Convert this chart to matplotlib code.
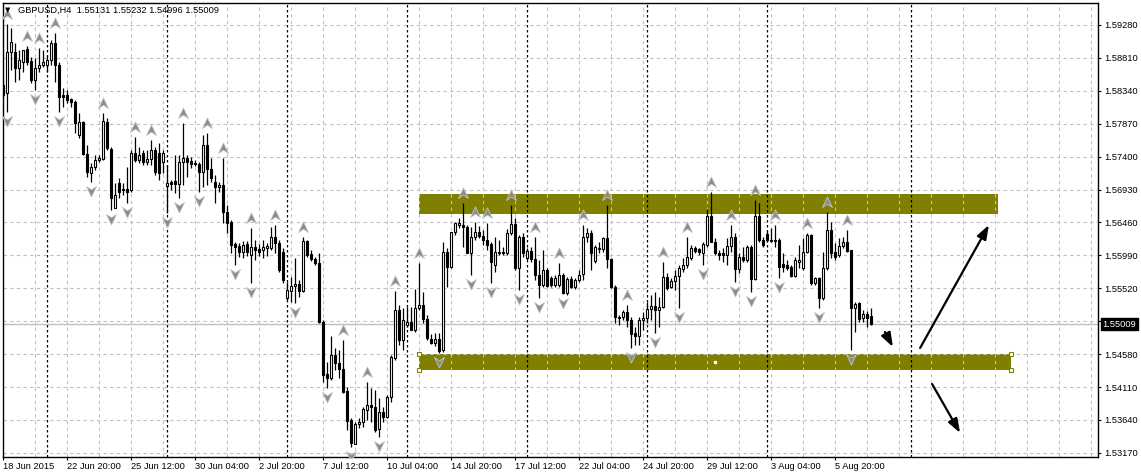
import matplotlib
matplotlib.use("Agg")
import matplotlib.pyplot as plt
import numpy as np
from matplotlib.path import Path
from matplotlib.patches import Rectangle
from matplotlib.transforms import offset_copy, blended_transform_factory

# ---------------- data (GBPUSD H4) ----------------
opens = [1.5842,1.5831,1.5889,1.5889,1.5867,1.5875,1.5894,1.5877,1.5850,1.5867,
1.5871,1.5871,1.5878,1.5902,1.5871,1.5828,1.5828,1.5822,1.5818,1.5771,
1.5789,1.5744,1.5717,1.5725,1.5735,1.5737,1.5789,1.5751,1.5667,1.5702,
1.5694,1.5694,1.5692,1.5745,1.5735,1.5745,1.5732,1.5737,1.5750,1.5745,
1.5732,1.5698,1.5704,1.5705,1.5701,1.5732,1.5738,1.5734,1.5731,1.5730,
1.5718,1.5757,1.5722,1.5704,1.5697,1.5700,1.5661,1.5647,1.5615,1.5612,
1.5604,1.5615,1.5600,1.5611,1.5608,1.5607,1.5610,1.5610,1.5625,1.5617,
1.5604,1.5538,1.5548,1.5555,1.5558,1.5548,1.5620,1.5601,1.5594,1.5588,
1.5504,1.5430,1.5424,1.5457,1.5445,1.5437,1.5405,1.5364,1.5330,1.5358,
1.5361,1.5378,1.5385,1.5382,1.5351,1.5375,1.5368,1.5397,1.5452,1.5521,
1.5478,1.5500,1.5504,1.5492,1.5524,1.5528,1.5508,1.5480,1.5474,1.5480,
1.5464,1.5604,1.5582,1.5632,1.5642,1.5642,1.5640,1.5602,1.5625,1.5632,
1.5627,1.5621,1.5615,1.5585,1.5602,1.5604,1.5602,1.5631,1.5644,1.5581,
1.5625,1.5595,1.5605,1.5594,1.5571,1.5557,1.5578,1.5567,1.5557,1.5557,
1.5571,1.5545,1.5565,1.5554,1.5564,1.5572,1.5625,1.5631,1.5591,1.5608,
1.5608,1.5624,1.5594,1.5554,1.5511,1.5511,1.5518,1.5507,1.5488,1.5484,
1.5507,1.5510,1.5522,1.5527,1.5521,1.5525,1.5568,1.5554,1.5562,1.5570,
1.5580,1.5585,1.5595,1.5610,1.5608,1.5602,1.5614,1.5655,1.5618,1.5602,
1.5602,1.5600,1.5612,1.5625,1.5580,1.5597,1.5592,1.5611,1.5565,1.5655,
1.5621,1.5630,1.5621,1.5620,1.5621,1.5587,1.5585,1.5582,1.5570,1.5590,
1.5581,1.5604,1.5628,1.5560,1.5567,1.5538,1.5581,1.5635,1.5604,1.5600,
1.5612,1.5618,1.5607,1.5524,1.5531,1.5510,1.5515,1.55131]

highs = [1.5850,1.5929,1.5924,1.5902,1.5892,1.5892,1.5898,1.5882,1.5881,1.5895,
1.5892,1.5885,1.5907,1.5917,1.5875,1.5838,1.5835,1.5824,1.5821,1.5802,
1.5791,1.5757,1.5731,1.5742,1.5742,1.5802,1.5795,1.5754,1.5702,1.5710,
1.5702,1.5725,1.5750,1.5768,1.5754,1.5750,1.5750,1.5764,1.5754,1.5760,
1.5750,1.5728,1.5707,1.5742,1.5742,1.5788,1.5742,1.5740,1.5735,1.5732,
1.5771,1.5774,1.5738,1.5714,1.5704,1.5738,1.5671,1.5650,1.5618,1.5617,
1.5620,1.5620,1.5638,1.5621,1.5615,1.5621,1.5617,1.5640,1.5642,1.5621,
1.5610,1.5561,1.5568,1.5595,1.5564,1.5625,1.5621,1.5607,1.5597,1.5602,
1.5507,1.5447,1.5484,1.5467,1.5464,1.5478,1.5411,1.5367,1.5361,1.5367,
1.5382,1.5418,1.5410,1.5407,1.5395,1.5382,1.5400,1.5457,1.5548,1.5528,
1.5524,1.5525,1.5525,1.5551,1.5588,1.5547,1.5514,1.5487,1.5488,1.5488,
1.5618,1.5610,1.5632,1.5647,1.5652,1.5674,1.5642,1.5640,1.5647,1.5641,
1.5635,1.5645,1.5618,1.5625,1.5621,1.5611,1.5637,1.5671,1.5652,1.5628,
1.5631,1.5610,1.5611,1.5625,1.5592,1.5607,1.5581,1.5570,1.5571,1.5588,
1.5574,1.5568,1.5570,1.5567,1.5578,1.5642,1.5638,1.5635,1.5614,1.5618,
1.5625,1.5671,1.5595,1.5557,1.5514,1.5521,1.5528,1.5511,1.5497,1.5511,
1.5518,1.5532,1.5542,1.5547,1.5540,1.5590,1.5574,1.5567,1.5578,1.5585,
1.5595,1.5625,1.5614,1.5612,1.5610,1.5618,1.5665,1.5690,1.5624,1.5607,
1.5610,1.5624,1.5642,1.5631,1.5602,1.5611,1.5614,1.5614,1.5678,1.5674,
1.5625,1.5634,1.5638,1.5642,1.5624,1.5602,1.5592,1.5585,1.5597,1.5614,
1.5624,1.5631,1.5630,1.5568,1.5568,1.5604,1.5661,1.5647,1.5617,1.5624,
1.5625,1.5635,1.5607,1.5532,1.5532,1.5521,1.5520,1.55232]

lows = [1.5825,1.5804,1.5864,1.5847,1.5850,1.5861,1.5871,1.5845,1.5835,1.5861,
1.5868,1.5861,1.5871,1.5847,1.5804,1.5811,1.5817,1.5811,1.5774,1.5767,
1.5742,1.5711,1.5704,1.5721,1.5732,1.5735,1.5750,1.5664,1.5667,1.5681,
1.5685,1.5674,1.5690,1.5732,1.5731,1.5728,1.5728,1.5728,1.5714,1.5707,
1.5717,1.5660,1.5692,1.5688,1.5681,1.5700,1.5711,1.5724,1.5727,1.5690,
1.5697,1.5700,1.5704,1.5674,1.5690,1.5645,1.5631,1.5602,1.5585,1.5597,
1.5595,1.5598,1.5560,1.5592,1.5598,1.5595,1.5598,1.5607,1.5602,1.5575,
1.5560,1.5535,1.5532,1.5531,1.5540,1.5547,1.5597,1.5591,1.5585,1.5502,
1.5418,1.5410,1.5421,1.5435,1.5424,1.5402,1.5350,1.5325,1.5330,1.5352,
1.5354,1.5364,1.5361,1.5347,1.5340,1.5361,1.5367,1.5390,1.5450,1.5471,
1.5464,1.5497,1.5492,1.5490,1.5521,1.5502,1.5478,1.5472,1.5470,1.5460,
1.5461,1.5554,1.5581,1.5628,1.5638,1.5611,1.5602,1.5571,1.5621,1.5624,
1.5614,1.5607,1.5560,1.5575,1.5600,1.5600,1.5600,1.5628,1.5578,1.5550,
1.5597,1.5592,1.5590,1.5564,1.5538,1.5554,1.5554,1.5554,1.5554,1.5554,
1.5544,1.5542,1.5552,1.5551,1.5561,1.5564,1.5618,1.5578,1.5588,1.5602,
1.5604,1.5581,1.5552,1.5502,1.5500,1.5507,1.5497,1.5467,1.5471,1.5471,
1.5492,1.5502,1.5507,1.5488,1.5497,1.5524,1.5550,1.5552,1.5550,1.5524,
1.5575,1.5581,1.5592,1.5602,1.5600,1.5585,1.5611,1.5618,1.5600,1.5592,
1.5590,1.5585,1.5604,1.5561,1.5574,1.5590,1.5590,1.5547,1.5564,1.5618,
1.5611,1.5618,1.5618,1.5611,1.5567,1.5575,1.5578,1.5568,1.5568,1.5581,
1.5578,1.5602,1.5557,1.5557,1.5524,1.5535,1.5578,1.5595,1.5592,1.5597,
1.5610,1.5604,1.5464,1.5490,1.5504,1.5504,1.5497,1.54996]

closes = [1.5828,1.5889,1.5904,1.5867,1.5878,1.5892,1.5875,1.5850,1.5867,1.5871,
1.5875,1.5878,1.5902,1.5871,1.5825,1.5825,1.5821,1.5818,1.5788,1.5789,
1.5744,1.5718,1.5725,1.5735,1.5738,1.5791,1.5752,1.5681,1.5685,1.5690,
1.5692,1.5690,1.5745,1.5735,1.5742,1.5732,1.5737,1.5750,1.5718,1.5717,
1.5745,1.5702,1.5701,1.5701,1.5732,1.5738,1.5732,1.5730,1.5730,1.5718,
1.5757,1.5722,1.5710,1.5697,1.5700,1.5661,1.5645,1.5614,1.5611,1.5604,
1.5614,1.5604,1.5611,1.5607,1.5604,1.5611,1.5612,1.5625,1.5617,1.5578,
1.5564,1.5550,1.5555,1.5558,1.5548,1.5620,1.5600,1.5594,1.5588,1.5504,
1.5428,1.5424,1.5457,1.5445,1.5437,1.5404,1.5362,1.5331,1.5358,1.5361,
1.5380,1.5385,1.5382,1.5350,1.5375,1.5368,1.5397,1.5454,1.5521,1.5478,
1.5507,1.5504,1.5492,1.5524,1.5528,1.5508,1.5481,1.5474,1.5480,1.5462,
1.5604,1.5582,1.5632,1.5645,1.5645,1.5640,1.5602,1.5625,1.5632,1.5627,
1.5621,1.5614,1.5590,1.5604,1.5604,1.5602,1.5631,1.5644,1.5581,1.5625,
1.5602,1.5605,1.5594,1.5571,1.5557,1.5578,1.5555,1.5557,1.5567,1.5571,
1.5545,1.5565,1.5554,1.5564,1.5571,1.5625,1.5631,1.5602,1.5611,1.5610,
1.5624,1.5594,1.5554,1.5511,1.5510,1.5518,1.5507,1.5487,1.5484,1.5507,
1.5510,1.5522,1.5527,1.5521,1.5525,1.5568,1.5552,1.5562,1.5570,1.5581,
1.5585,1.5597,1.5610,1.5605,1.5604,1.5615,1.5655,1.5618,1.5602,1.5600,
1.5600,1.5612,1.5625,1.5580,1.5597,1.5592,1.5611,1.5565,1.5655,1.5621,
1.5614,1.5621,1.5620,1.5621,1.5582,1.5582,1.5581,1.5570,1.5592,1.5592,
1.5604,1.5628,1.5560,1.5567,1.5538,1.5581,1.5635,1.5602,1.5597,1.5612,
1.5618,1.5605,1.5524,1.5530,1.5508,1.5515,1.5510,1.55009]

# bar indices carrying a Bill Williams fractal mark
up_fractals = [1, 6, 9, 13, 25, 33, 37, 45, 51, 55, 62, 68, 75, 85, 91, 98, 104,
               115, 118, 121, 127, 133, 139, 145, 151, 156, 165, 171, 177, 182,
               188, 193, 201, 206, 211]
down_fractals = [1, 8, 14, 22, 27, 31, 41, 44, 49, 58, 62, 73, 81, 87, 94, 109,
                 117, 122, 129, 134, 140, 157, 163, 169, 175, 183, 187, 194, 204, 212]

# time axis labels (every 16 bars) and weekly separators (bar index)
date_labels = ["18 Jun 2015", "22 Jun 20:00", "25 Jun 12:00", "30 Jun 04:00",
               "2 Jul 20:00", "7 Jul 12:00", "10 Jul 04:00", "14 Jul 20:00",
               "17 Jul 12:00", "22 Jul 04:00", "24 Jul 20:00", "29 Jul 12:00",
               "3 Aug 04:00", "5 Aug 20:00"]
label_bars = [0, 16, 32, 48, 64, 80, 96, 112, 128, 144, 160, 176, 192, 208]
week_separators = [11, 41, 71, 101, 131, 161, 191, 227]

price_ticks = [1.53170, 1.53640, 1.54110, 1.54580, 1.55050, 1.55520, 1.55990,
               1.56460, 1.56930, 1.57400, 1.57870, 1.58340, 1.58810, 1.59280]

# drawn objects: zones (bar_start, bar_end, price_low, price_high) and arrows
resistance_zone = (103.9, 248.7, 1.56581, 1.56867)
support_zone = (103.9, 251.9, 1.54353, 1.54582)
arrow_starts = [(220.4, 1.54896), (229.2, 1.54668), (232.2, 1.54153)]
arrow_ends = [(222.4, 1.54682), (246.4, 1.56424), (239.2, 1.53454)]

symbol_title = "GBPUSD,H4  1.55131 1.55232 1.54996 1.55009"
last_price = 1.55009

# ---------------- figure ----------------
W, H = 1141, 475
fig = plt.figure(figsize=(W / 100, H / 100), dpi=100)
fig.patch.set_facecolor("white")
ax = fig.add_axes([3 / W, 18 / H, 1095 / W, 454 / H])
ax.set_facecolor("white")
ax.set_xlim(-0.08, 273.67)
ax.set_ylim(1.53111, 1.59594)

FONT = "Liberation Sans"
FS = 6.7
GRID = "#c0c0c0"
OLIVE = "#808000"

# grid
for p in price_ticks:
    ax.axhline(p, color=GRID, lw=0.8, ls=(0, (3, 3)), zorder=1)
for b in np.arange(8, 274, 8):
    ax.axvline(b, color=GRID, lw=0.8, ls=(0, (3, 3)), zorder=1)
for b in week_separators:
    ax.axvline(b, color="black", lw=0.9, ls=(0, (2, 2)), zorder=1.2)

# zones
for (x0, x1, y0, y1) in (resistance_zone, support_zone):
    ax.add_patch(Rectangle((x0, y0), x1 - x0, y1 - y0, facecolor=OLIVE,
                           edgecolor="none", zorder=0.8))
sx0, sx1, sy0, sy1 = support_zone
ax.plot([sx0, sx0, sx1, sx1], [sy0, sy1, sy0, sy1], ls="none", marker="s",
        ms=3.3, mfc="white", mec=OLIVE, mew=0.8, zorder=6, clip_on=False)
ax.plot([(sx0 + sx1) / 2], [(sy0 + sy1) / 2], ls="none", marker="s", ms=2,
        mfc="white", mec="white", zorder=6)

# current price line
ax.axhline(last_price, color="#c0c0c0", lw=1.0, zorder=1.5)

# candles
O = np.array(opens); C = np.array(closes)
Hh = np.array(highs); Ll = np.array(lows)
x = np.arange(len(O))
ax.vlines(x, Ll, Hh, color="black", lw=0.9, zorder=3)
bull = C >= O
body_lo = np.minimum(O, C)
body_h = np.maximum(np.abs(C - O), 1e-6)
ax.bar(x, body_h, bottom=body_lo, width=0.5,
       color=np.where(bull, "white", "black"), edgecolor="black",
       linewidth=0.8, zorder=4)

# fractal marks
up_path = Path([(0, 0.5), (0.45, -0.45), (0, -0.15), (-0.45, -0.45), (0, 0.5)],
               [Path.MOVETO, Path.LINETO, Path.LINETO, Path.LINETO, Path.CLOSEPOLY])
dn_path = Path([(0, -0.5), (0.45, 0.45), (0, 0.15), (-0.45, 0.45), (0, -0.5)],
               [Path.MOVETO, Path.LINETO, Path.LINETO, Path.LINETO, Path.CLOSEPOLY])
tr_up = offset_copy(ax.transData, fig=fig, x=0, y=10, units="dots")
tr_dn = offset_copy(ax.transData, fig=fig, x=0, y=-9, units="dots")
ui = np.array(up_fractals); di = np.array(down_fractals)
ax.plot(ui, Hh[ui], ls="none", marker=up_path, ms=8, mfc="#8c8c8c",
        mec="#c4c4c4", mew=0.6, transform=tr_up, zorder=5)
ax.plot(di, Ll[di], ls="none", marker=dn_path, ms=8, mfc="#8c8c8c",
        mec="#c4c4c4", mew=0.6, transform=tr_dn, zorder=5)

# drawn arrows
for s, e in zip(arrow_starts, arrow_ends):
    ax.annotate("", xy=e, xytext=s,
                arrowprops=dict(arrowstyle="-|>,head_length=0.7,head_width=0.25",
                                color="black", lw=1.6, shrinkA=0, shrinkB=0,
                                mutation_scale=12), zorder=6)

# axes styling
for sp in ax.spines.values():
    sp.set_color("black"); sp.set_linewidth(1.0)
ax.yaxis.tick_right()
ax.set_yticks(price_ticks)
ax.set_yticklabels([f"{p:.5f}" for p in price_ticks])
ax.set_xticks(label_bars)
ax.set_xticklabels(date_labels)
for t in ax.get_xticklabels():
    t.set_horizontalalignment("left")
ax.tick_params(axis="y", which="both", direction="out", length=2.2, width=0.8,
               pad=2, labelsize=FS, colors="black")
ax.tick_params(axis="x", which="both", direction="out", length=2.2, width=0.8,
               pad=1.5, labelsize=FS, colors="black")
for t in ax.get_xticklabels() + ax.get_yticklabels():
    t.set_fontfamily(FONT)

# last price tag
bt = blended_transform_factory(ax.transAxes, ax.transData)
ax.annotate(f"{last_price:.5f}", xy=(1.0, last_price), xycoords=bt,
            xytext=(3.2, 0), textcoords="offset points", ha="left", va="center",
            color="white", fontsize=FS, fontfamily=FONT, annotation_clip=False,
            bbox=dict(boxstyle="square,pad=0.18", fc="black", ec="black"),
            zorder=10)

# title
fig.text(5 / W, 1 - 10.5 / H, "\u25BC", fontsize=5, family="DejaVu Sans",
         va="center", ha="left", color="black")
fig.text(18 / W, 1 - 10.5 / H, symbol_title, fontsize=FS, family=FONT,
         va="center", ha="left", color="black")

fig.savefig("out.png", dpi=100, facecolor="white")
